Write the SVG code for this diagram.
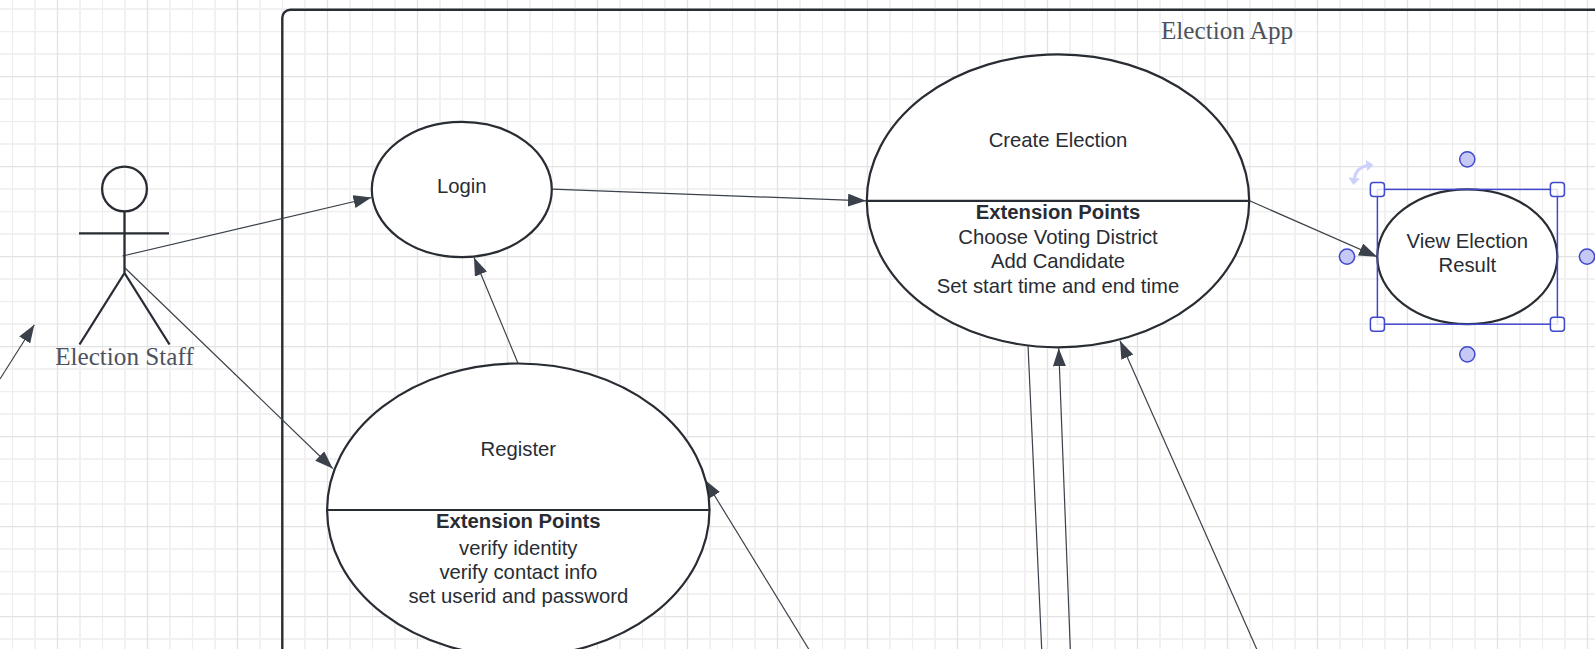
<svg xmlns="http://www.w3.org/2000/svg" width="1595" height="649" viewBox="0 0 1595 649">
<style>
.shape{fill:#fff;stroke:#282c33;stroke-width:2.2}
.div{stroke:#282c33;stroke-width:2.2;fill:none}
.actor{stroke:#282c33;stroke-width:2.3;fill:none}
.t{font-family:"Liberation Sans",Arial,sans-serif;font-size:20.3px;fill:#282c33;text-anchor:middle}
.b{font-weight:bold}
.s{font-family:"Liberation Serif","Times New Roman",serif;font-size:25.2px;fill:#4c535d;text-anchor:middle}
.c{stroke:#3a414a;stroke-width:1.2;fill:none;marker-end:url(#arrow)}
.sel{fill:none;stroke:#3f48cc;stroke-width:1.5}
.h{fill:#fff;fill-opacity:.85;stroke:#3f48cc;stroke-width:1.5}
.k{fill:#c7c9f5;stroke:#3f48cc;stroke-width:1.5}
</style>
<defs>
<pattern id="grid" width="90" height="90" patternUnits="userSpaceOnUse">
<g fill="none">
<path d="M35 0V90M80 0V90M0 9H90M0 54H90" stroke="#f1f1f1" stroke-width="2"/>
<path d="M12.5 0V90M0 31.7H90" stroke="#eeeeee" stroke-width="1.2"/>
<path d="M57.5 0V90M0 76.7H90" stroke="#e2e2e2" stroke-width="1.3"/>
</g>
</pattern>
<marker id="arrow" markerUnits="userSpaceOnUse" markerWidth="18" markerHeight="13" refX="18" refY="6.5" orient="auto">
<path d="M0 0L18 6.5L0 13Z" fill="#3a414a"/>
</marker>
</defs>
<rect width="1595" height="649" fill="#fff"/>
<rect width="1595" height="649" fill="url(#grid)"/>
<g id="frame">
<rect x="282.3" y="9.7" width="1400" height="800" rx="8" fill="none" stroke="#282c33" stroke-width="2.4"/>
<text class="s" x="1227" y="39">Election App</text>
</g>
<g id="connectors">
<path class="c" d="M122.500 256L371.500 197.500"/>
<path class="c" d="M124.500 267.500L332.700 468.500"/>
<path class="c" d="M0 379L34.300 324.700"/>
<path class="c" d="M552.300 189.200L866 200.800"/>
<path class="c" d="M518.500 364.500L474 257.500"/>
<path class="c" d="M1249 200.500L1377 256.700"/>
<path class="c" d="M808.700 649L705 480"/>
<path class="c" style="marker-end:none" d="M1028 345L1041.700 649"/>
<path class="c" d="M1070.300 649L1058.700 348.300"/>
<path class="c" d="M1256.700 649L1120 340.700"/>
</g>
<g id="election-staff">
<circle class="actor" cx="124.500" cy="189" r="22.400"/>
<path class="actor" d="M124.500 211.400V273M79 233.300H169M124.500 273L79.500 344.500M124.500 273L169.500 344.500"/>
<text class="s" x="124.500" y="364.500">Election Staff</text>
</g>
<g id="login">
<ellipse class="shape" cx="461.800" cy="189.500" rx="90" ry="67.600"/>
<text class="t" x="461.800" y="193">Login</text>
</g>
<g id="create-election">
<ellipse class="shape" cx="1058" cy="200.800" rx="191.200" ry="146.500"/>
<path class="div" d="M866.800 200.800H1249.200"/>
<text class="t" x="1058" y="146.800">Create Election</text>
<text class="t b" x="1058" y="218.700">Extension Points</text>
<text class="t" x="1058" y="244">Choose Voting District</text>
<text class="t" x="1058" y="268.200">Add Candidate</text>
<text class="t" x="1058" y="292.800">Set start time and end time</text>
</g>
<g id="register">
<ellipse class="shape" cx="518.300" cy="510" rx="191.200" ry="146.500"/>
<path class="div" d="M327.100 510H709.500"/>
<text class="t" x="518.300" y="455.700">Register</text>
<text class="t b" x="518.300" y="528">Extension Points</text>
<text class="t" x="518.300" y="555">verify identity</text>
<text class="t" x="518.300" y="579.300">verify contact info</text>
<text class="t" x="518.300" y="603.300">set userid and password</text>
</g>
<g id="view-election-result">
<ellipse class="shape" cx="1467.300" cy="256.700" rx="90" ry="67.400"/>
<text class="t" x="1467.300" y="247.700">View Election</text>
<text class="t" x="1467.300" y="272.400">Result</text>
</g>
<g id="selection">
<rect class="sel" x="1377.400" y="189.400" width="180" height="134.800"/>
<rect class="h" x="1370.400" y="182.400" width="14" height="14" rx="3"/>
<rect class="h" x="1550.400" y="182.400" width="14" height="14" rx="3"/>
<rect class="h" x="1370.400" y="317.200" width="14" height="14" rx="3"/>
<rect class="h" x="1550.400" y="317.200" width="14" height="14" rx="3"/>
<circle class="k" cx="1467.300" cy="159.300" r="7.600"/>
<circle class="k" cx="1467.300" cy="354.300" r="7.600"/>
<circle class="k" cx="1347" cy="256.700" r="7.600"/>
<circle class="k" cx="1587" cy="256.700" r="7.600"/>
<path d="M1354.500 178Q1356 168 1367 165.500" fill="none" stroke="#ccd0fb" stroke-width="3"/>
<path d="M1348.500 177.500L1360 178.500L1353.500 185ZM1366 160L1373.500 165L1367 171Z" fill="#ccd0fb"/>
</g>
</svg>
